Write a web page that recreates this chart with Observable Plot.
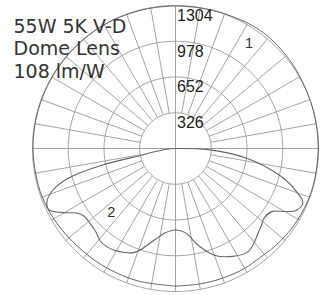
<!DOCTYPE html>
<html><head><meta charset="utf-8">
<script src="https://cdn.jsdelivr.net/npm/d3@7"></script>
<script src="https://cdn.jsdelivr.net/npm/@observablehq/plot@0.6"></script>
<style>body{margin:0;background:#fff;}</style>
</head><body><div id="chart"></div>
<script>
const titleLines = ["55W 5K V-D", "Dome Lens", "108 lm/W"];
const ringValues = [326, 652, 978, 1304];
const ringLabels = ["326", "652", "978", "1304"];
const spokeAngles = d3.range(0, 360, 10);

// curve 1: angle from nadir (deg, clockwise toward right), candela
const curve1Angles = [0, 10, 20, 30, 38, 45, 55, 65, 75, 90, 105, 120, 130, 140, 148, 155, 165, 180, 195, 210, 225, 240, 255, 270, 285, 295, 305, 315, 325, 335, 345, 360];
const curve1Values = [1255, 1255, 1258, 1262, 1258, 1270, 1285, 1295, 1300, 1302, 1304, 1310, 1318, 1325, 1322, 1312, 1305, 1300, 1300, 1302, 1300, 1300, 1300, 1300, 1295, 1288, 1275, 1262, 1258, 1255, 1255, 1255];

// curve 2
const curve2Angles = [-90, -85, -80, -78.7, -77.2, -74.5, -71, -67, -64, -60, -57, -54, -50, -44, -39, -35, -31, -26, -22, -19, -13, -7, 0, 7, 13, 20, 28, 35, 40, 44, 48, 52, 57, 60, 63, 67, 70, 75, 82, 88, 90];
const curve2Values = [0, 80, 250, 323, 697, 1015, 1190, 1275, 1280, 1170, 1080, 1040, 1035, 1050, 1088, 1092, 1082, 1055, 1024, 977, 857, 775, 743, 775, 903, 1035, 1114, 1151, 1118, 1080, 1053, 1027, 1053, 1150, 1240, 1262, 1183, 1005, 668, 300, 0];

const curveLabelNames = ["1", "2"];
const curveLabelAngles = [145, -45];
const curveLabelValues = [1168, 829];

const rMax = 1304;
const toXY = (deg, r) => { const t = deg * Math.PI / 180; return {x: r * Math.sin(t), y: -r * Math.cos(t)}; };

const ringPts = ringValues.flatMap(v => d3.range(0, 361, 2).map(a => ({ring: v, ...toXY(a, v)})));
const c1 = curve1Angles.map((a, i) => toXY(a, curve1Values[i]));
const c2 = curve2Angles.map((a, i) => toXY(a, curve2Values[i]));
const spokeStart = a => (a % 90 === 0 ? 0 : ringValues[0]);

const gridColor = "#9a9a9a";
const curveColor = "#666";

const chart = Plot.plot({
  width: 329, height: 295,
  marginLeft: 32, marginRight: 11, marginTop: 5, marginBottom: 4,
  x: {domain: [-rMax, rMax], axis: null},
  y: {domain: [-rMax, rMax], axis: null},
  style: {background: "#fff"},
  marks: [
    Plot.link(spokeAngles, {
      x1: a => toXY(a, spokeStart(a)).x, y1: a => toXY(a, spokeStart(a)).y,
      x2: a => toXY(a, rMax).x, y2: a => toXY(a, rMax).y,
      stroke: gridColor, strokeWidth: 0.9
    }),
    Plot.line(ringPts, {x: "x", y: "y", z: "ring", stroke: gridColor, strokeWidth: 0.9}),
    Plot.line(c1, {x: "x", y: "y", stroke: curveColor, strokeWidth: 1, curve: "catmull-rom"}),
    Plot.line(c2, {x: "x", y: "y", stroke: curveColor, strokeWidth: 1.1, curve: "catmull-rom"}),
    Plot.text(ringValues, {
      x: () => 0, y: d => d, text: (d, i) => ringLabels[i],
      textAnchor: "start", lineAnchor: "top", dx: 1.5, dy: 4,
      fontSize: 16, fontFamily: "Liberation Sans", fill: "#222"
    }),
    Plot.text(curveLabelNames, {
      x: (d, i) => toXY(curveLabelAngles[i], curveLabelValues[i]).x,
      y: (d, i) => toXY(curveLabelAngles[i], curveLabelValues[i]).y,
      text: d => d, fontSize: 14.5, fontFamily: "Liberation Sans", fill: "#333"
    }),
    Plot.text([titleLines.join("\n")], {
      frameAnchor: "top-left", textAnchor: "start", lineAnchor: "top",
      text: d => d, lineHeight: 1.18, dx: -19, dy: 11.5,
      fontSize: 19, fontFamily: "DejaVu Sans", fill: "#333"
    })
  ]
});
document.getElementById("chart").appendChild(chart);
</script>
</body></html>
